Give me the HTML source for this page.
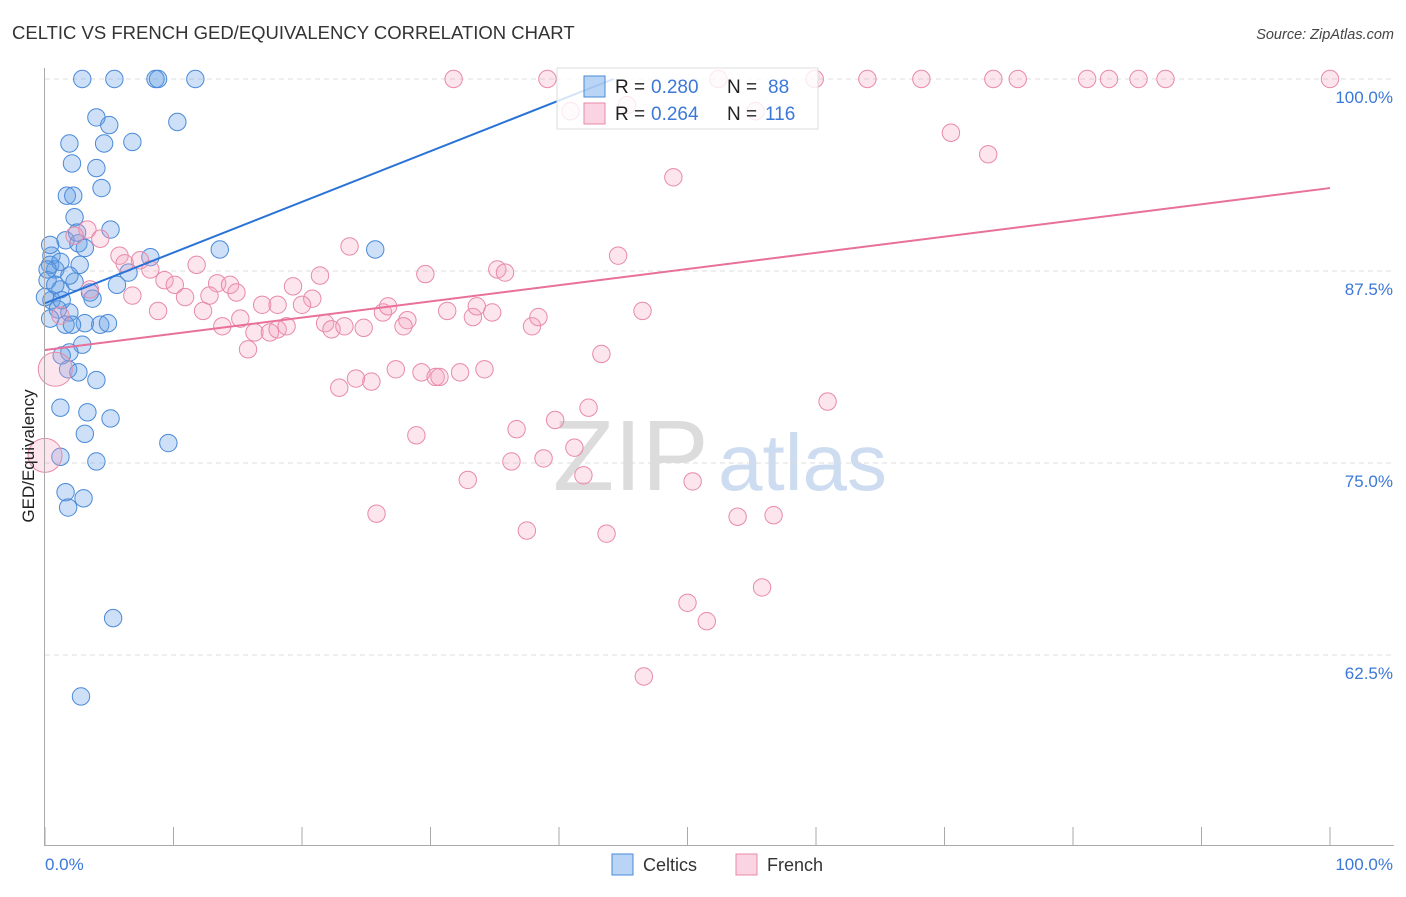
<!DOCTYPE html>
<html><head><meta charset="utf-8"><style>
body{margin:0;background:#fff;font-family:"Liberation Sans",sans-serif;}
svg text{font-family:"Liberation Sans",sans-serif;}
</style></head><body>
<svg id="chart" width="1406" height="892" xmlns="http://www.w3.org/2000/svg">
<text x="12" y="39" font-size="18.5" fill="#333">CELTIC VS FRENCH GED/EQUIVALENCY CORRELATION CHART</text>
<text x="1394" y="39" font-size="14.5" fill="#444" font-style="italic" text-anchor="end">Source: ZipAtlas.com</text>
<text x="553" y="490" font-size="100" fill="#dcdcdc" font-family="Liberation Serif, serif">ZIP</text>
<text x="718" y="490" font-size="80" fill="#cddcf0">atlas</text>
<g id="grid"></g>
<g id="pts"></g>
<g id="lines"></g>
<line x1="44.5" y1="68" x2="44.5" y2="845" stroke="#aaa"/>
<line x1="44" y1="845.5" x2="1394" y2="845.5" stroke="#aaa"/>
<text transform="translate(34,456) rotate(-90)" font-size="17" fill="#222" text-anchor="middle">GED/Equivalency</text>
<text x="45" y="870" font-size="17" fill="#3b78d8">0.0%</text>
<text x="1393" y="870" font-size="17" fill="#3b78d8" text-anchor="end">100.0%</text>
<g>
<rect x="557" y="68" width="261" height="61" fill="rgba(255,255,255,0.8)" stroke="#ddd"/>
<rect x="584" y="76" width="21" height="21" fill="rgba(100,160,230,0.45)" stroke="#4a8ad8"/>
<rect x="584" y="103" width="21" height="21" fill="rgba(245,160,190,0.45)" stroke="#e88aa8"/>
<text x="615" y="93" font-size="19" fill="#222">R = </text><text x="651" y="93" font-size="19" fill="#3b78d8">0.280</text>
<text x="727" y="93" font-size="19" fill="#222">N = </text><text x="768" y="93" font-size="19" fill="#3b78d8">88</text>
<text x="615" y="120" font-size="19" fill="#222">R = </text><text x="651" y="120" font-size="19" fill="#3b78d8">0.264</text>
<text x="727" y="120" font-size="19" fill="#222">N = </text><text x="765" y="120" font-size="19" fill="#3b78d8">116</text>
</g>
<g>
<rect x="612" y="854" width="21" height="21" fill="rgba(100,160,230,0.45)" stroke="#4a8ad8"/>
<text x="643" y="871" font-size="18" fill="#333">Celtics</text></g>
<g>
<rect x="736" y="854" width="21" height="21" fill="rgba(245,160,190,0.45)" stroke="#e88aa8"/>
<text x="767" y="871" font-size="18" fill="#333">French</text></g>
</svg>
<script>
const yTicks=[100,87.5,75,62.5];
const yTickLabels=["100.0%","87.5%","75.0%","62.5%"];
const xTicks=[0,10,20,30,40,50,60,70,80,90,100];
const celticsX=[2.9,5.4,8.6,8.8,11.7,4.0,5.0,10.3,1.9,4.6,6.8,2.1,4.0,4.4,1.7,2.2,2.3,5.1,13.6,25.7,8.2,6.5,5.6,3.5,3.7,1.6,2.6,0.5,0.4,0.8,0.2,1.2,0.5,1.0,0.4,1.9,1.6,3.1,4.3,4.9,2.1,2.9,1.9,1.3,1.8,2.6,4.0,1.2,3.3,5.1,3.1,9.6,1.2,4.0,1.6,3.0,1.8,5.3,2.8,2.3,2.7,1.9,1.2,0.4,3.1,2.5,0,0.8,1.3,0.2];
const celticsY=[100,100,100,100,100,97.5,97.0,97.2,95.8,95.8,95.9,94.5,94.2,92.9,92.4,92.4,91.0,90.2,88.9,88.9,88.4,87.4,86.6,86.1,85.7,89.5,89.3,88.5,87.9,87.6,86.9,86.3,85.6,85.0,84.4,84.8,84.0,84.1,84.0,84.1,84.0,82.7,82.2,82.0,81.1,80.9,80.4,78.6,78.3,77.9,76.9,76.3,75.4,75.1,73.1,72.7,72.1,64.9,59.8,86.8,87.9,87.2,88.1,89.2,89.0,90.0,85.8,86.6,85.6,87.6];
const frenchX=[31.8,39.1,52.4,59.9,64.0,68.2,73.8,75.7,81.1,82.8,85.1,87.2,100,45.3,40.9,55.3,70.5,73.4,48.9,3.3,2.3,4.3,5.8,6.2,7.4,8.2,11.8,23.7,29.6,35.2,35.8,44.6,9.3,10.1,10.9,13.4,14.4,14.9,12.8,6.8,8.8,12.3,13.8,15.2,15.8,16.9,18.1,19.3,20.8,20.0,21.4,16.3,17.5,18.1,18.8,21.8,22.3,23.3,24.8,26.3,26.7,28.2,27.9,31.3,33.3,33.6,34.8,37.9,38.4,46.5,43.3,22.9,24.2,25.4,27.3,29.3,30.4,30.7,32.3,34.2,28.9,36.7,39.7,42.3,60.9,32.9,36.3,38.8,41.2,41.9,50.4,25.8,37.5,43.7,53.9,56.7,50.0,51.5,55.8,46.6,3.5,1.2];
const frenchY=[100,100,100,100,100,100,100,100,100,100,100,100,100,98.3,97.9,97.9,96.5,95.1,93.6,90.2,89.8,89.6,88.5,88.0,88.2,87.6,87.9,89.1,87.3,87.6,87.4,88.5,86.9,86.6,85.8,86.7,86.6,86.1,85.9,85.9,84.9,84.9,83.9,84.4,82.4,85.3,85.3,86.5,85.7,85.3,87.2,83.5,83.5,83.7,83.9,84.1,83.7,83.9,83.8,84.8,85.2,84.3,83.9,84.9,84.5,85.2,84.8,83.9,84.5,84.9,82.1,79.9,80.5,80.3,81.1,80.9,80.6,80.6,80.9,81.1,76.8,77.2,77.8,78.6,79.0,73.9,75.1,75.3,76.0,74.2,73.8,71.7,70.6,70.4,71.5,71.6,65.9,64.7,66.9,61.1,86.3,84.6];
const frenchBigX=[0.8,0];
const frenchBigY=[81.1,75.5];
const celticsTrend=[85.4,98.6]; // y at x=0 and x=40
const frenchTrend=[82.36,92.9]; // y at x=0 and x=100
const NS="http://www.w3.org/2000/svg";
const X=v=>45+v*12.85, Y=v=>79+(100-v)*15.36;
function mk(tag,attrs,parent){const e=document.createElementNS(NS,tag);for(const k in attrs)e.setAttribute(k,attrs[k]);parent.appendChild(e);return e;}
const grid=document.getElementById('grid'),pts=document.getElementById('pts'),lines=document.getElementById('lines'),svg=document.getElementById('chart');
yTicks.forEach((t,i)=>{
 const l=mk('line',{x1:45,x2:1394,y1:Y(t),y2:Y(t),stroke:'#ddd','stroke-dasharray':'5,4'},grid);
 
 
 const tx=mk('text',{x:1393,y:Y(t)+24,'font-size':17,fill:'#3b78d8','text-anchor':'end'},svg);
 tx.textContent=yTickLabels[i];
 
 
});
xTicks.forEach(t=>{
 const l=mk('line',{x1:X(t),x2:X(t),y1:827,y2:845,stroke:'#aaa'},grid);
 
 
});
celticsX.forEach((v,i)=>{
 const c=mk('circle',{cx:X(v),cy:Y(celticsY[i]),r:8.7,fill:'rgba(100,160,230,0.32)',stroke:'#4a8ad8','stroke-width':1},pts);
 
 
});
frenchX.forEach((v,i)=>{
 const c=mk('circle',{cx:X(v),cy:Y(frenchY[i]),r:8.7,fill:'rgba(245,160,190,0.28)',stroke:'#e88aa8','stroke-width':1},pts);
 
 
});
frenchBigX.forEach((v,i)=>{
 const c=mk('circle',{cx:X(v),cy:Y(frenchBigY[i]),r:17,fill:'rgba(245,160,190,0.28)',stroke:'#e88aa8','stroke-width':1},pts);
 
 
});
const bslope=(celticsTrend[1]-celticsTrend[0])/40;
const bxEnd=Math.min(100,(100-celticsTrend[0])/bslope);
const bl=mk('line',{x1:X(0),y1:Y(celticsTrend[0]),x2:X(bxEnd),y2:Y(celticsTrend[0]+bslope*bxEnd),stroke:'#2a73d6','stroke-width':2},lines);


const pl=mk('line',{x1:X(0),y1:Y(frenchTrend[0]),x2:X(100),y2:Y(frenchTrend[1]),stroke:'#e8709a','stroke-width':2},lines);


</script>
</body></html>
